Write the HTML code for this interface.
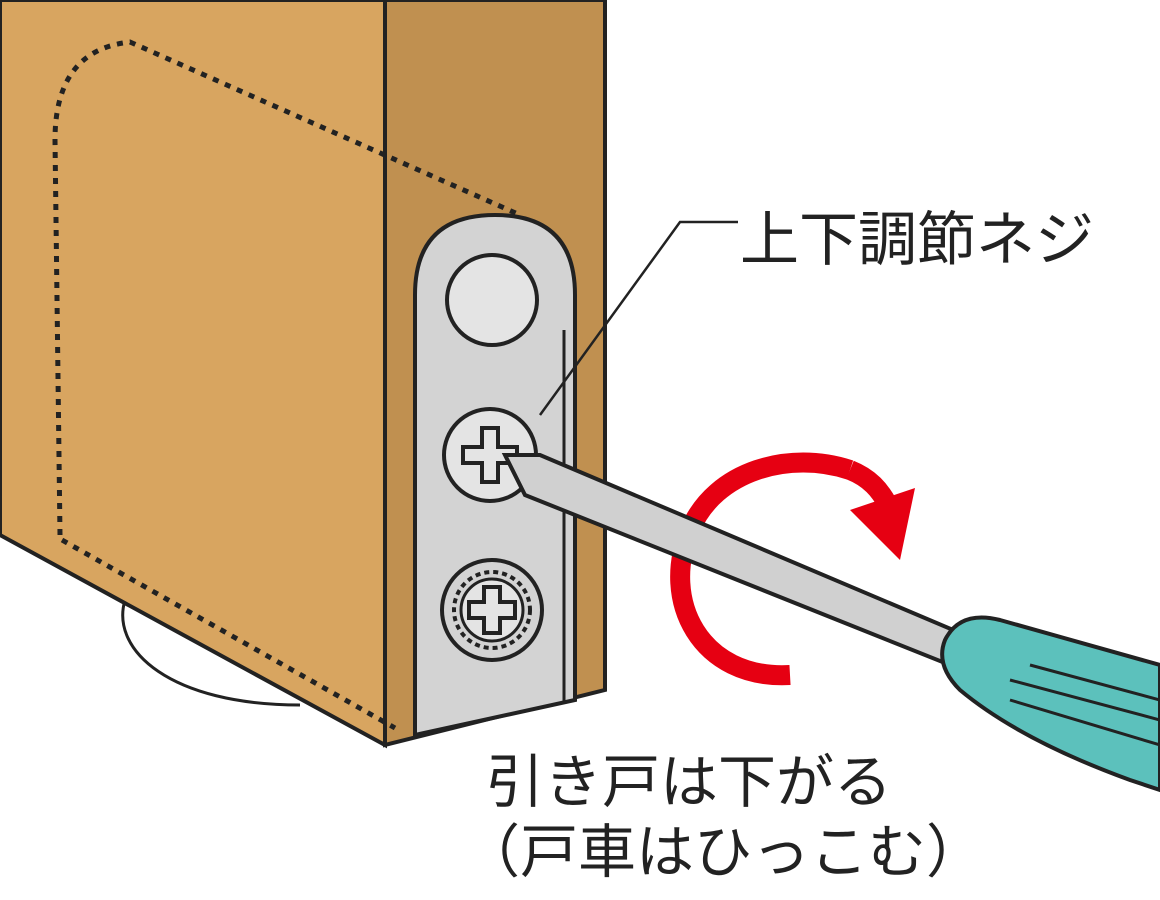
<!DOCTYPE html>
<html><head><meta charset="utf-8"><style>
html,body{margin:0;padding:0;background:#fff;}
svg{display:block}
text{font-family:"Liberation Sans","Noto Sans CJK JP",sans-serif;fill:#222}
</style></head><body>
<svg width="1160" height="900" viewBox="0 0 1160 900" xmlns="http://www.w3.org/2000/svg">
<path d="M125,600 C110,650 170,705 300,705" fill="#fff" stroke="#222" stroke-width="3"/>
<polygon points="0,0 385,0 385,745 0,535" fill="#D8A560" stroke="#222" stroke-width="4"/>
<polygon points="385,0 605,0 605,690 385,745" fill="#C09050" stroke="#222" stroke-width="4"/>
<path d="M60,535 L55,140 Q55,50 130,42 L520,215" fill="none" stroke="#222" stroke-width="5" stroke-dasharray="6,7"/>
<path d="M62,540 L395,728" fill="none" stroke="#222" stroke-width="5" stroke-dasharray="6,7"/>
<path d="M415,735 L415,295 Q415,215 495,215 Q575,215 575,295 L575,700 Z" fill="#D3D3D3" stroke="#222" stroke-width="4"/>
<line x1="564" y1="330" x2="564" y2="703" stroke="#222" stroke-width="3"/>
<circle cx="492" cy="300" r="45" fill="#E4E4E4" stroke="#222" stroke-width="4"/>
<circle cx="490" cy="455" r="46" fill="#E4E4E4" stroke="#222" stroke-width="4"/>
<path d="M482,428 h16 v19 h19 v16 h-19 v19 h-16 v-19 h-19 v-16 h19 z" fill="#E4E4E4" stroke="#222" stroke-width="4"/>
<circle cx="492" cy="610" r="50" fill="#D3D3D3" stroke="#222" stroke-width="4"/>
<circle cx="492" cy="610" r="38" fill="none" stroke="#222" stroke-width="4" stroke-dasharray="5,4"/>
<circle cx="492" cy="610" r="31" fill="#E4E4E4" stroke="#222" stroke-width="3"/>
<path d="M484,587 h16 v15 h15 v16 h-15 v15 h-16 v-15 h-15 v-16 h15 z" fill="#E4E4E4" stroke="#222" stroke-width="4"/>
<path d="M790,675 C700,680 660,600 690,530 C715,470 790,450 850,470" fill="none" stroke="#E60012" stroke-width="20"/>
<polygon points="505,455 540,455 965,635 950,665 525,495" fill="#D0D0D0" stroke="#222" stroke-width="4"/>
<path d="M945,640 Q960,610 1000,620 L1160,665 L1160,790 L1130,780 Q1020,740 960,690 Q935,665 945,640 Z" fill="#5CC1BC" stroke="#222" stroke-width="4"/>
<path d="M1010,680 L1160,720 M1030,665 L1160,700 M1010,700 L1160,745" stroke="#222" stroke-width="3" fill="none"/>
<path d="M850,470 C870,478 880,490 888,505" fill="none" stroke="#E60012" stroke-width="20"/>
<polygon points="850,510 915,488 900,560" fill="#E60012"/>
<polyline points="738,222 680,222 540,415" fill="none" stroke="#222" stroke-width="2.5"/>
<text x="740" y="260" font-size="59">上下調節ネジ</text>
<text x="486" y="802" font-size="58">引き戸は下がる</text>
<text x="462" y="872" font-size="58">（戸車はひっこむ）</text>
</svg>
</body></html>
